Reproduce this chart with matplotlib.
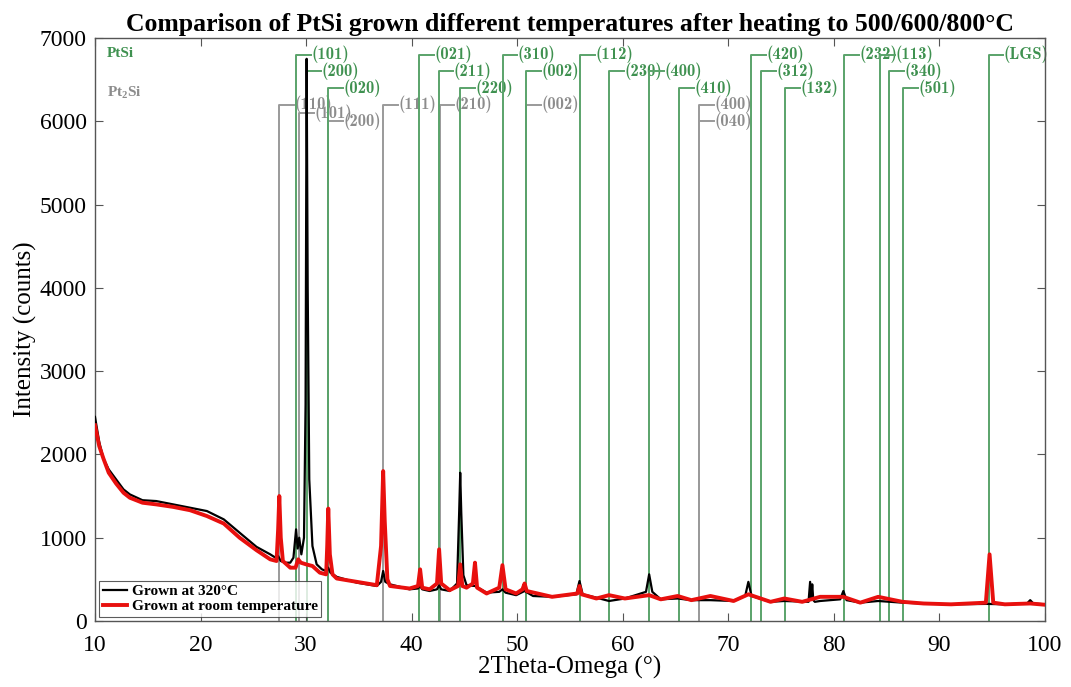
import matplotlib
matplotlib.use("Agg")
import matplotlib.pyplot as plt

# --- data ---
tt_320 = [10.0, 10.4, 10.8, 11.3, 12.0, 12.7, 13.3, 14.5, 15.8, 17.4, 19.0, 20.6, 22.2, 23.7,
          25.3, 26.6, 27.1, 27.35, 27.6, 28.0, 28.5, 28.8, 29.05, 29.2, 29.35, 29.55, 29.8,
          29.95, 30.05, 30.15, 30.3, 30.6, 31.0, 31.5, 31.9, 32.1, 32.3, 32.9, 34.8, 36.7,
          37.1, 37.3, 37.5, 37.95, 39.8, 40.6, 40.8, 41.0, 41.7, 42.4, 42.6, 42.8, 43.6,
          44.3, 44.5, 44.6, 44.7, 44.9, 45.2, 46.0, 47.1, 48.3, 48.6, 48.9, 49.9, 50.7,
          51.5, 53.3, 55.6, 55.9, 56.2, 57.5, 58.7, 60.2, 62.2, 62.5, 62.8, 63.6, 65.2,
          66.5, 68.3, 70.5, 71.6, 71.9, 72.2, 74.0, 75.3, 77.6, 77.75, 77.85, 77.95, 78.05,
          78.2, 78.7, 80.6, 80.9, 81.2, 82.5, 84.2, 86.5, 88.5, 91.1, 94.5, 96.2, 98.3,
          98.6, 98.9, 100.0]
counts_320 = [2450, 2150, 1950, 1820, 1700, 1580, 1520, 1450, 1440, 1400, 1360, 1320, 1220, 1060,
              890, 800, 760, 780, 720, 700, 700, 760, 1100, 870, 1000, 800, 1000,
              2600, 6750, 4000, 1700, 900, 680, 620, 600, 640, 580, 530, 460, 420,
              470, 600, 470, 440, 380, 390, 420, 380, 360, 380, 430, 380, 360,
              450, 1300, 1780, 1300, 550, 430, 420, 340, 350, 380, 340, 310, 360,
              300, 290, 320, 480, 320, 280, 240, 270, 350, 560, 350, 260, 270,
              250, 250, 240, 300, 470, 300, 230, 240, 230, 470, 260, 440, 250,
              230, 240, 260, 360, 250, 220, 240, 220, 210, 200, 205, 200, 210,
              250, 210, 200]

tt_rt = [10.0, 10.4, 10.8, 11.3, 12.0, 12.7, 13.3, 14.5, 15.8, 17.4, 19.0, 20.6, 22.2, 23.7,
         25.3, 26.6, 27.2, 27.35, 27.46, 27.6, 27.8, 28.5, 29.0, 29.25, 29.5, 30.0, 30.6,
         31.3, 31.9, 32.0, 32.1, 32.25, 32.5, 32.9, 34.8, 36.7, 37.1, 37.3, 37.45, 37.7,
         37.95, 39.8, 40.6, 40.8, 41.0, 41.7, 42.4, 42.6, 42.8, 43.6, 44.4, 44.6, 44.8,
         45.2, 45.8, 46.0, 46.2, 47.1, 48.3, 48.6, 48.9, 49.9, 50.5, 50.7, 50.9, 53.3,
         55.7, 55.9, 56.1, 57.5, 58.7, 60.2, 62.5, 63.6, 65.2, 66.5, 68.3, 70.5, 71.9,
         74.0, 75.3, 77.0, 78.7, 80.9, 82.5, 84.2, 86.5, 88.5, 91.1, 94.4, 94.75, 95.1,
         96.2, 98.6, 100.0]
counts_rt = [2350, 2100, 1950, 1780, 1650, 1540, 1480, 1420, 1400, 1370, 1330, 1260, 1170, 1000,
             850, 740, 720, 1100, 1500, 1000, 720, 640, 640, 740, 700, 680, 660,
             580, 560, 900, 1350, 800, 560, 510, 470, 430, 900, 1800, 1200, 500,
             420, 390, 420, 620, 400, 380, 450, 860, 450, 370, 420, 680, 420,
             400, 450, 700, 400, 330, 400, 670, 380, 330, 380, 450, 360, 290,
             330, 420, 320, 270, 310, 270, 310, 260, 300, 250, 300, 240, 320,
             230, 270, 230, 290, 290, 220, 290, 230, 210, 200, 220, 800, 220,
             200, 210, 195]

# reference sticks: position, label height, label
ptsi_pos = [29.04, 30.05, 32.10, 40.72, 42.56, 44.58, 48.62, 50.88, 55.95, 58.69,
            62.51, 65.32, 72.15, 73.14, 75.40, 80.98, 84.36, 85.25, 86.57, 94.66]
ptsi_h = [6800, 6600, 6400, 6800, 6600, 6400, 6800, 6600, 6800, 6600,
          6600, 6400, 6800, 6600, 6400, 6800, 6800, 6600, 6400, 6800]
ptsi_lab = ['(101)', '(200)', '(020)', '(021)', '(211)', '(220)', '(310)', '(002)', '(112)', '(230)',
            '(400)', '(410)', '(420)', '(312)', '(132)', '(232)', '(113)', '(340)', '(501)', '(LGS)']

pt2si_pos = [27.46, 29.37, 32.10, 37.31, 42.64, 50.88, 67.25, 67.25]
pt2si_h = [6200, 6100, 6000, 6200, 6200, 6200, 6200, 6000]
pt2si_lab = ['(110)', '(101)', '(200)', '(111)', '(210)', '(002)', '(400)', '(040)']

GREEN_LINE = '#5aa36a'
GREEN_TXT = '#3f9150'
GRAY_LINE = '#9a9a9a'
GRAY_TXT = '#8c8c8c'

plt.rcParams['font.family'] = ['Liberation Serif', 'DejaVu Serif']

fig = plt.figure(figsize=(10.71, 6.87), dpi=100)
ax = fig.add_axes([0.0887, 0.0961, 0.8870, 0.8486])

def sticks(pos, heights, labels, lc, tc):
    for x, h, lab in zip(pos, heights, labels):
        ax.plot([x, x, x + 1.4], [0, h, h], color=lc, lw=1.4, zorder=1)
        ax.text(x + 1.45, h, lab, color=tc, fontsize=12, fontfamily='cmb10',
                va='center', ha='left', clip_on=False, zorder=1)

sticks(pt2si_pos, pt2si_h, pt2si_lab, GRAY_LINE, GRAY_TXT)
sticks(ptsi_pos, ptsi_h, ptsi_lab, GREEN_LINE, GREEN_TXT)

ax.plot(tt_320, counts_320, color='black', lw=1.6, zorder=3, label='Grown at 320°C')
ax.plot(tt_rt, counts_rt, color='#e8100e', lw=2.8, zorder=4, label='Grown at room temperature')

ax.text(0.0126, 0.974, 'PtSi', transform=ax.transAxes, color=GREEN_TXT, fontsize=11,
        fontweight='bold', va='center', ha='left')
ax.text(0.0126, 0.906, 'Pt$_\\mathregular{2}$Si', transform=ax.transAxes, color=GRAY_TXT,
        fontsize=11, fontweight='bold', va='center', ha='left')

ax.set_xlim(10, 100)
ax.set_ylim(0, 7000)
ax.set_xticks(range(10, 101, 10))
ax.set_yticks(range(0, 7001, 1000))
ax.tick_params(direction='in', top=True, right=True, length=6, labelsize=17, color='#555555')
ax.tick_params(axis='x', pad=10)
ax.tick_params(axis='y', pad=6)
for s in ax.spines.values():
    s.set_color('#555555')
    s.set_linewidth(1.0)

ax.set_xlabel('2Theta-Omega (°)', fontsize=18, labelpad=0)
ax.set_ylabel('Intensity (counts)', fontsize=18, labelpad=2)
ax.set_title('Comparison of PtSi grown different temperatures after heating to 500/600/800°C',
             fontsize=18.5, fontweight='bold', pad=5)

leg = ax.legend(loc='lower left', frameon=True, fancybox=False,
                handlelength=1.6, handletextpad=0.3, borderpad=0.25, labelspacing=0.1,
                borderaxespad=0.25, prop={'weight': 'bold', 'size': 11})
leg.get_frame().set_edgecolor('#333333')
leg.get_frame().set_linewidth(0.8)

fig.savefig('out.png', dpi=100)
